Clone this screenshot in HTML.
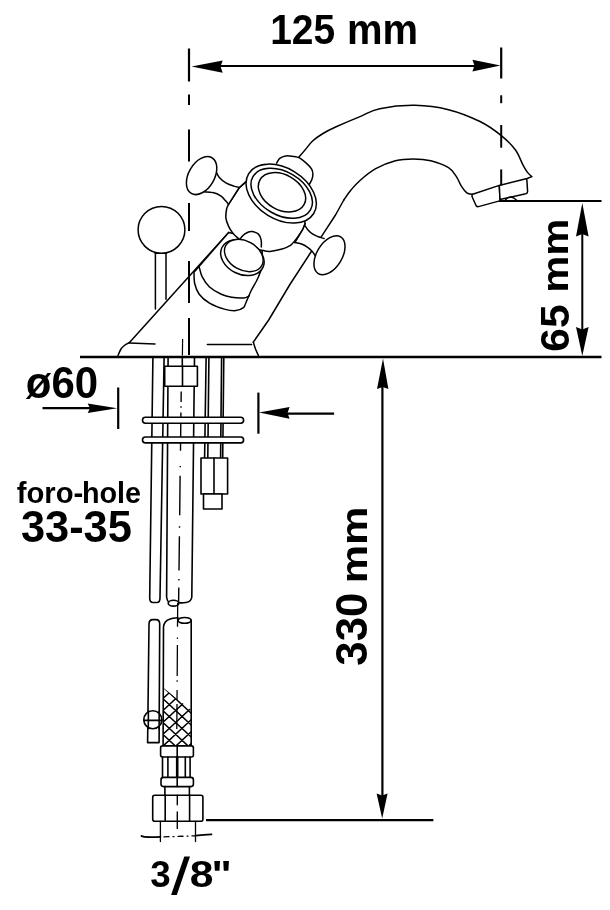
<!DOCTYPE html>
<html><head><meta charset="utf-8">
<style>
html,body{margin:0;padding:0;background:#fff;}
body{width:610px;height:910px;overflow:hidden;}
svg{display:block;filter:grayscale(1);}
text{font-family:"Liberation Sans",sans-serif;font-weight:bold;fill:#000;}
</style></head>
<body>
<svg width="610" height="910" viewBox="0 0 610 910">
<rect width="610" height="910" fill="#fff"/>

<!-- ===== DIMENSION: 125 mm ===== -->
<g stroke="#000" fill="none" stroke-width="2.2">
  <line x1="189" y1="48.5" x2="189" y2="81.5"/>
  <line x1="501.2" y1="47.5" x2="501.2" y2="78.5"/>
  <line x1="215" y1="66" x2="480" y2="66"/>
  <g stroke-width="2">
    <line x1="189" y1="94.6" x2="189" y2="105"/>
    <line x1="189" y1="129.5" x2="189" y2="161.5"/>
    <line x1="189" y1="203" x2="189" y2="231"/>
    <line x1="189" y1="261" x2="189" y2="303"/>
    <line x1="189" y1="318" x2="189" y2="355"/>
    <line x1="501.2" y1="95.3" x2="501.2" y2="103.2"/>
    <line x1="501.2" y1="125" x2="501.2" y2="147.7"/>
    <line x1="501.2" y1="169.4" x2="501.2" y2="188"/>
  </g>
</g>
<path d="M191.5 66.5 L222.7 60.6 L220.5 66.5 L222.7 72.8 Z" fill="#000"/>
<path d="M500.5 65.5 L472.4 59.7 L474.5 65.5 L472.4 71.5 Z" fill="#000"/>
<text transform="translate(270.18,44.30) scale(0.9746,1.0536)" font-size="40">125</text>
<text transform="translate(347.00,44.10) scale(1.0000,1.0409)" font-size="40">mm</text>

<!-- ===== BASE LINE & 65 mm ===== -->
<g stroke="#000" fill="none">
  <line x1="80" y1="356.9" x2="601.5" y2="356.9" stroke-width="2.5"/>
  <line x1="496" y1="201" x2="601.5" y2="201" stroke-width="2.2"/>
  <line x1="582.3" y1="230" x2="582.3" y2="333" stroke-width="2"/>
</g>
<path d="M582.3 203 L576 236.5 L582.3 234 L588.6 236.5 Z" fill="#000"/>
<path d="M582.3 356 L576 327 L582.3 329.5 L588.6 327 Z" fill="#000"/>
<text transform="translate(568.60,351.73) rotate(-90) scale(1.0634,1.0000)" font-size="40">65</text>
<text transform="translate(568.40,292.84) rotate(-90) scale(1.0455,0.9273)" font-size="40">mm</text>

<!-- ===== 330 mm ===== -->
<g stroke="#000" fill="none" stroke-width="2.2">
  <line x1="382.4" y1="385" x2="382.4" y2="797"/>
  <line x1="206" y1="820.2" x2="433.4" y2="820.2"/>
</g>
<path d="M383 358.5 L377 389 L382.7 387 L388.4 389 Z" fill="#000"/>
<path d="M382.2 818.5 L376.6 793.6 L382.2 795.5 L387.6 793.6 Z" fill="#000"/>
<text transform="translate(367.10,665.70) rotate(-90) scale(1.0953,1.0893)" font-size="40">330</text>
<text transform="translate(366.50,583.33) rotate(-90) scale(1.0773,0.9318)" font-size="40">mm</text>

<!-- ===== ø60 ===== -->
<g stroke="#000" fill="none" stroke-width="2.2">
  <line x1="118.2" y1="387.5" x2="118.2" y2="429"/>
  <line x1="42.5" y1="408.2" x2="92" y2="408.2"/>
  <line x1="258.4" y1="392.6" x2="258.4" y2="433.7"/>
  <line x1="286" y1="413.7" x2="334.1" y2="413.7"/>
</g>
<path d="M117.2 408.2 L87.7 403.5 L90 408.2 L87.7 413 Z" fill="#000"/>
<path d="M259 412.5 L289.6 407 L287.5 413 L289.6 418.8 Z" fill="#000"/>
<text transform="translate(25.75,397.57) scale(1.0500,1.1310)" font-size="40">ø60</text>

<!-- ===== foro-hole ===== -->
<text transform="translate(16.77,502.70) scale(0.7303,0.7467)" font-size="40">foro-</text>
<text transform="translate(81.94,502.70) scale(0.7192,0.7267)" font-size="40">hole</text>
<text transform="translate(20.91,541.70) scale(1.0850,1.1250)" font-size="40">33-35</text>

<!-- ===== 3/8" ===== -->
<text transform="translate(150.18,886.90) scale(0.9200,0.9357)" font-size="40">3</text>
<path d="M171.1 895 L176.8 895 L190 856.6 L184.3 856.6 Z" fill="#000"/>
<text transform="translate(189.74,886.90) scale(1.0650,0.9357)" font-size="40">8</text>
<text transform="translate(211.39,887.52) scale(1.0692,0.9900)" font-size="40">&quot;</text>

<!-- ===== FAUCET ===== -->
<g id="faucet" stroke="#000" fill="none" stroke-width="1.5" stroke-linejoin="round" stroke-linecap="round">
<path d="M118.0 355.5 C118.5 354.4 119.8 350.8 121.0 349.0 C122.2 347.2 123.6 346.1 125.0 345.0 C126.4 343.9 128.8 342.9 129.5 342.5" fill="none"/>
<path d="M129.5 342.5 L228.7 232.4"/>
<path d="M129.5 343 L155 344"/>
<path d="M258.4 355.5 C257.9 354.4 256.4 351.2 255.5 349.0 C254.7 346.8 253.7 343.2 253.3 342.1" fill="none"/>
<path d="M253.3 342.1 L268.7 320 L289.6 285 L309.7 254 L321.7 236.2 L335.5 215 L343.8 200"/>
<path d="M343.8 200.0 C345.0 198.3 348.3 193.2 351.0 190.0 C353.7 186.8 355.9 184.1 360.0 180.5 C364.1 176.9 369.8 172.0 375.7 168.7 C381.6 165.4 389.2 162.4 395.4 160.8 C401.6 159.2 407.2 158.9 413.1 158.9 C419.0 158.9 424.9 159.3 430.8 160.8 C436.7 162.3 444.2 165.1 448.5 167.7 C452.8 170.3 454.3 173.6 456.4 176.6 C458.5 179.6 459.2 182.7 460.9 185.4 C462.6 188.1 464.8 191.3 466.8 192.8 C468.8 194.3 471.7 194.1 472.7 194.3" fill="none"/>
<path d="M207.4 344.6 L251.6 344.6"/>
<path d="M299.0 157.1 C300.0 155.9 302.7 152.7 305.0 150.0 C307.3 147.3 309.6 143.8 312.6 141.0 C315.6 138.2 319.2 135.8 323.0 133.5 C326.8 131.2 329.4 129.8 335.6 127.0 C341.8 124.2 352.6 119.6 360.0 116.6 C367.4 113.5 370.5 110.6 379.7 108.7 C388.9 106.8 403.5 105.1 415.0 105.3 C426.5 105.5 437.7 107.0 448.5 109.7 C459.3 112.4 471.1 117.2 480.0 121.5 C488.9 125.8 495.7 131.1 501.6 135.8 C507.5 140.6 511.9 145.2 515.5 150.0 C519.0 154.8 520.9 161.1 522.9 164.8 C524.9 168.5 525.8 170.1 527.3 172.1 C528.8 174.1 531.0 175.8 531.7 176.6" fill="none"/>
<path d="M531.7 176.6 L526.6 178.8"/>
<path d="M472.7 194.3 L499.3 185.4 L500 199.4 L499.6 200.9 L478.5 206.6 Q476.4 207 475.8 205 L472 196.5 Q471.8 194.8 472.7 194.3 Z" fill="#fff"/>
<path d="M499.3 185.4 L525 178.9 Q526.6 178.6 526.9 180.4 L527.6 191.5 Q527.6 193.3 525.8 193.8 L500 199.4 Z" fill="#fff"/>
<path d="M505 200.5 Q508 196.5 511 197 Q514 197.5 517 200.5" stroke-width="1.3"/>
<path d="M228.7 232.4 L194 272.2 C194.1 274.2 193.9 280.3 194.8 284.0 C195.7 287.7 196.8 291.1 199.2 294.3 C201.6 297.5 205.3 300.7 209.5 303.2 C213.7 305.7 219.9 307.9 224.3 309.1 C228.7 310.3 232.8 310.9 236.0 310.6 C239.2 310.4 241.8 308.8 243.4 307.6 C245.0 306.4 244.4 306.0 245.7 303.2 C247.0 300.4 249.2 294.7 251.0 291.0 C252.8 287.3 254.9 284.2 256.5 281.0 C258.1 277.8 259.5 274.7 260.5 271.5 C261.5 268.3 262.0 263.6 262.3 262.0 L262 240 Z" fill="#fff"/>
<path d="M199.2 267.0 C199.7 268.6 200.4 273.3 202.1 276.6 C203.8 279.9 206.3 284.1 209.5 287.0 C212.7 289.9 217.6 292.6 221.3 294.3 C225.0 296.0 227.9 296.7 231.6 297.3 C235.3 297.9 240.4 298.2 243.4 298.0 C246.4 297.8 248.3 296.2 249.3 295.8" fill="none"/>
<path d="M245.6 182.1 L239 188 L228.5 204.4 C228.2 205.2 227.0 206.7 226.6 209.0 C226.2 211.3 225.6 215.3 225.9 218.2 C226.2 221.0 227.4 223.7 228.5 226.1 C229.6 228.5 231.0 230.6 232.5 232.6 C234.0 234.6 235.3 235.9 237.7 237.9 C240.1 239.9 243.9 242.7 247.0 244.5 C250.1 246.3 253.2 248.0 256.0 249.0 C258.8 250.0 261.2 250.2 263.5 250.6 C265.8 251.0 266.9 251.7 270.0 251.4 C273.1 251.1 279.1 249.8 282.1 249.0 C285.1 248.2 286.5 247.4 288.1 246.6 C289.7 245.8 290.2 245.8 291.8 244.2 C293.4 242.6 296.0 239.3 297.8 236.9 C299.6 234.5 301.5 231.9 302.7 229.7 C303.9 227.5 304.7 224.6 305.1 223.6 L300 180 Z" fill="#fff"/>
<path d="M239.0 241.0 C239.5 240.2 241.0 237.7 242.0 236.5 C243.0 235.3 243.8 234.7 244.9 233.9 C246.0 233.2 247.3 232.4 248.5 232.0 C249.7 231.6 250.7 231.3 252.3 231.6 C253.9 231.9 256.7 232.5 258.2 233.9 C259.7 235.3 260.6 237.6 261.1 239.8 C261.6 242.0 261.3 245.8 261.3 247.0" fill="#fff"/>
<ellipse cx="242.4" cy="257.6" rx="22.8" ry="16.6" transform="rotate(26.3 242.4 257.6)" fill="#fff"/>
<ellipse cx="243.8" cy="255.5" rx="20.6" ry="14.5" transform="rotate(29.2 243.8 255.5)" fill="#fff" stroke-width="1.4"/>
<path d="M276.7 163.1 C277.2 162.3 278.2 159.5 279.7 158.3 C281.2 157.1 283.3 156.2 285.7 155.9 C288.1 155.6 292.0 156.2 294.2 156.5 C296.4 156.8 297.0 156.6 299.0 157.7 C301.0 158.8 304.2 161.2 306.3 163.1 C308.4 165.0 310.6 167.3 311.7 169.2 C312.8 171.1 312.9 172.8 312.9 174.6 C312.9 176.4 312.3 178.5 311.7 180.1 C311.1 181.7 309.7 183.6 309.3 184.3" fill="#fff"/>
<ellipse cx="281.2" cy="193.6" rx="38.1" ry="25.5" transform="rotate(31.5 281.2 193.6)" fill="#fff"/>
<ellipse cx="281.7" cy="193.3" rx="33.2" ry="21.6" transform="rotate(30 281.7 193.3)"/>
<ellipse cx="282" cy="192.3" rx="25.3" ry="17.5" transform="rotate(29.4 282 192.3)"/>
<path d="M216.1 171.6 C216.6 172.6 217.7 175.6 219.3 177.5 C220.9 179.4 223.5 181.4 225.9 182.8 C228.3 184.2 231.6 185.3 233.8 186.1 C236.0 186.9 238.1 187.2 239.0 187.4 L228.5 204.4 C228.1 203.8 227.2 202.5 225.9 201.1 C224.6 199.7 222.9 197.3 220.7 195.9 C218.5 194.5 215.4 193.2 212.8 192.6 C210.2 191.9 206.2 192.1 204.9 192.0 Z" fill="#fff" stroke="none"/>
<path d="M216.1 171.6 C216.6 172.6 217.7 175.6 219.3 177.5 C220.9 179.4 223.5 181.4 225.9 182.8 C228.3 184.2 231.6 185.3 233.8 186.1 C236.0 186.9 238.1 187.2 239.0 187.4" fill="none"/>
<path d="M204.9 192.0 C206.2 192.1 210.2 191.9 212.8 192.6 C215.4 193.2 218.5 194.5 220.7 195.9 C222.9 197.3 224.6 199.7 225.9 201.1 C227.2 202.5 228.1 203.8 228.5 204.4" fill="none"/>
<path d="M228.5 204.4 L239 188 L245.6 182.1"/>
<ellipse cx="201.6" cy="175.6" rx="20.6" ry="12.9" transform="rotate(-60 201.6 175.6)" fill="#fff"/>
<path d="M305.1 225.9 C305.6 226.6 306.8 228.6 308.0 229.9 C309.2 231.2 310.8 232.8 312.5 233.9 C314.2 235.1 316.4 236.0 318.3 236.8 C320.2 237.6 323.1 238.2 324.0 238.5 L314.8 255.2 C314.4 254.6 313.6 252.9 312.5 251.7 C311.4 250.4 309.7 248.9 308.0 247.7 C306.3 246.5 304.4 245.2 302.2 244.3 C300.0 243.4 296.0 242.8 294.8 242.5 Z" fill="#fff" stroke="none"/>
<path d="M305.1 225.9 C305.6 226.6 306.8 228.6 308.0 229.9 C309.2 231.2 310.8 232.8 312.5 233.9 C314.2 235.1 316.4 236.0 318.3 236.8 C320.2 237.6 323.1 238.2 324.0 238.5" fill="none"/>
<path d="M294.8 242.5 C296.0 242.8 300.0 243.4 302.2 244.3 C304.4 245.2 306.3 246.5 308.0 247.7 C309.7 248.9 311.4 250.4 312.5 251.7 C313.6 252.9 314.4 254.6 314.8 255.2" fill="none"/>
<path d="M294.8 242.5 L302.7 229.7 L305.1 223.6"/>
<ellipse cx="329.5" cy="255.2" rx="21.5" ry="12.6" transform="rotate(-58.5 329.5 255.2)" fill="#fff"/>
<path d="M155.4 253.3 L155.4 309"/>
<path d="M166 253.3 L166 299.3"/>
<line x1="155.4" y1="253.3" x2="166" y2="253.3"/>
<circle cx="161.5" cy="229.8" r="23.4" fill="#fff"/>
</g>

<!-- ===== PIPES BELOW ===== -->
<path d="M182.6 339 L182.4 355.5" stroke="#000" stroke-width="1.2" fill="none"/>
<g stroke="#000" fill="none" stroke-width="1.6" stroke-linecap="round" stroke-linejoin="round">
  <!-- center dash-dot line -->
  <path d="M182.3 358 L182.3 366" />
  <path d="M181.2 391.6 L181.1 402 M181.0 406.3 L181.0 407.7 M180.9 412.6 L180.5 450.8 M180.3 465.9 L180.3 467.3 M180.1 475.8 L179.7 515.3 M179.5 526.3 L179.5 527.7 M179.4 536.3 L179.0 570.5 M178.9 579 L178.8 580.4 M178.8 587.6 L178.6 603" stroke-width="1.4" stroke-linecap="butt"/>
  <path d="M177.7 603 L177.6 617.5 M177.6 617.5 L177.5 626.7 M177.5 637.5 L177.4 638.9 M177.4 645 L177.2 676 M177.2 680.3 L177.1 681.7 M177.1 690 L177.0 700 M177.0 704 L176.8 729" stroke-width="1.3" stroke-linecap="butt"/>
  <!-- left thin pipe (upper) -->
  <path d="M152.9 358 L149.7 598 C149.7 601 151 602.5 153 602.5 L157 602.5 C159 602.5 160 601 160 598 L164.1 358"/>
  <!-- main pipe upper -->
  <path d="M168.1 358 L166.6 597 C167 600 167.5 601 168.5 602"/>
  <path d="M194.5 358 L191.8 597 C191.5 600 189.5 602 186 602.5 C183 603 180.5 603 178.6 602.6"/>
  <ellipse cx="173.5" cy="603.2" rx="5.3" ry="2.9"/>
  <!-- right pipes -->
  <line x1="206.1" y1="358" x2="204.6" y2="458"/>
  <line x1="208.9" y1="358" x2="207.8" y2="458"/>
  <line x1="221.6" y1="358" x2="220.6" y2="458"/>
  <line x1="223.8" y1="358" x2="222.7" y2="458"/>
  <!-- upper nut -->
  <rect x="164.7" y="366.2" width="32.7" height="20" fill="#fff"/>
  <line x1="182.5" y1="366.2" x2="182.5" y2="386.2"/>
  <!-- washers -->
  <rect x="142.5" y="417.3" width="101.1" height="5.9" rx="2.9" fill="#fff"/>
  <rect x="142.5" y="437" width="101.1" height="5.9" rx="2.9" fill="#fff"/>
  <!-- small nut -->
  <rect x="201" y="458" width="26.6" height="36" fill="#fff"/>
  <line x1="214" y1="458" x2="214" y2="494"/>
  <rect x="203.5" y="494" width="18.5" height="15" fill="#fff"/>

  <!-- lower thin pipe -->
  <path d="M147.6 742.6 L149 624 C149 621 150.5 619.6 153 619.6 L156 619.6 C158.5 619.6 159.7 621 159.7 624 L159.1 742.6 Z" fill="#fff"/>
  <circle cx="152.8" cy="719.8" r="9" fill="#fff"/>
  <line x1="148.4" y1="711" x2="148.3" y2="728.7"/>
  <line x1="159.2" y1="711" x2="159.1" y2="728.7"/>
  <line x1="143.8" y1="720.4" x2="161.8" y2="720.4"/>
  <!-- lower main pipe -->
  <path d="M163.1 745.9 L163.5 626.7 C164 623 166 620.5 169.4 619.3 C172 618.3 175 618 178 617.8"/>
  <line x1="191.2" y1="620.4" x2="191.2" y2="745.9"/>
  <ellipse cx="184.6" cy="620.4" rx="6.6" ry="2.9"/>
  
</g>
<!-- braid -->
<clipPath id="braidclip"><path d="M163.3 687.7 L191.2 710 L191.2 746 L163.3 746 Z"/></clipPath>
<g clip-path="url(#braidclip)" stroke="#000" stroke-width="1.5" fill="none">
  <path d="M160 624.6 L195 657.2 M160 653.7 L195 621.1 M160 636.5 L195 669.1 M160 665.6 L195 633.0 M160 648.4 L195 681.0 M160 677.5 L195 644.9 M160 660.3 L195 692.9 M160 689.4 L195 656.8 M160 672.2 L195 704.8 M160 701.3 L195 668.7 M160 684.1 L195 716.7 M160 713.2 L195 680.6 M160 696.0 L195 728.6 M160 725.1 L195 692.5 M160 707.9 L195 740.5 M160 737.0 L195 704.4 M160 719.8 L195 752.4 M160 748.9 L195 716.3 M160 731.7 L195 764.3 M160 760.8 L195 728.2 M160 743.6 L195 776.2 M160 772.7 L195 740.1 M160 755.5 L195 788.1 M160 784.6 L195 752.0 M160 767.4 L195 800.0 M160 796.5 L195 763.9 M160 779.3 L195 811.9 M160 808.4 L195 775.8 M160 791.2 L195 823.8 M160 820.3 L195 787.7"/>
</g>
<g stroke="#000" fill="none" stroke-width="1.6" stroke-linecap="round" stroke-linejoin="round">
  
  <!-- ring 1 -->
  <rect x="160.6" y="745.9" width="32.8" height="11.1" rx="2" fill="#fff"/>
  <line x1="177.2" y1="745.9" x2="177.2" y2="757"/>
  <!-- middle lines -->
  <path d="M162.5 757 V777.4 M167.9 757 V777.4 M176.7 757 V777.4 M177.7 757 V777.4 M185.3 757 V777.4 M190.1 757 V777.4"/>
  <!-- ring 2 -->
  <rect x="161" y="777.4" width="32.4" height="9.2" rx="2.5" fill="#fff"/>
  <line x1="177.2" y1="777.4" x2="177.2" y2="786.6"/>
  <path d="M164.9 786.6 V795 M189.4 786.6 V795"/>
  <!-- big nut -->
  <rect x="152.7" y="795.2" width="50.2" height="26.1" rx="2" fill="#fff"/>
  <path d="M165.2 795.2 V821.3 M189.6 795.2 V821.3"/>
  <path d="M177.3 795.2 V804.8 M177.3 812 V828.4" stroke-width="1.4"/>
  <!-- thread -->
  <path d="M160.4 821.3 V841.6 M195.5 821.3 V841.6" stroke-width="1.3"/>
  <!-- dimension curve -->
  <path d="M141.5 836 C143 837.5 150 837.3 160.4 836.9" stroke-width="1.8"/>
  <path d="M195.5 835.7 C202 835 207 834.6 211.5 834.3" stroke-width="1.8"/>
  <path d="M164 836.9 L195 835.8" stroke-width="1.3" stroke-dasharray="5 4 1 4"/>
</g>
</svg>
</body></html>
